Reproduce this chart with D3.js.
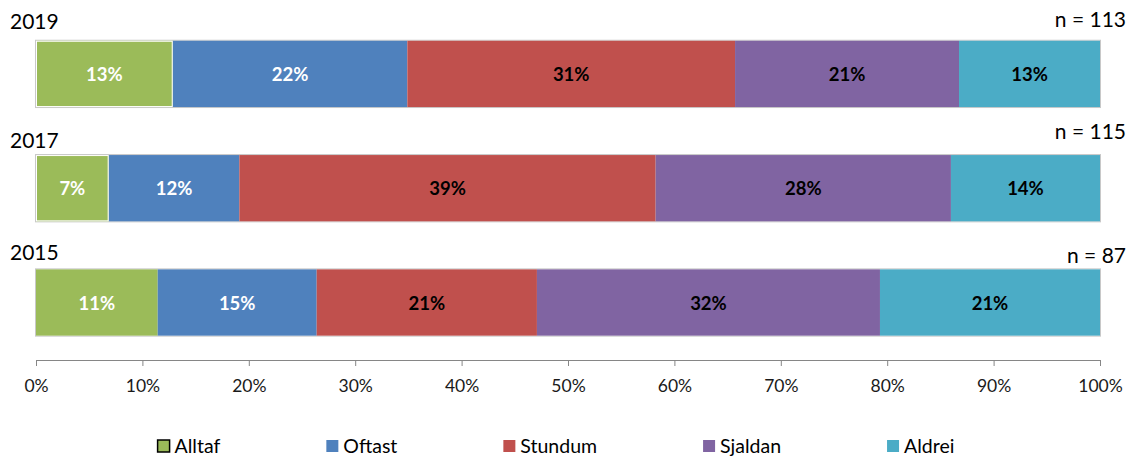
<!DOCTYPE html>
<html>
<head>
<meta charset="utf-8">
<script src="https://cdn.jsdelivr.net/npm/d3@7"></script>
<style>
  html, body { margin: 0; padding: 0; background: #fff; }
  svg { display: block; font-family: Lato, "Open Sans", sans-serif; }
</style>
</head>
<body>
<svg id="chart" width="1132" height="457"></svg>
<script>
// ---- data ----
const years = ["2019", "2017", "2015"];
const nLabels = ["n = 113", "n = 115", "n = 87"];
const seriesNames = ["Alltaf", "Oftast", "Stundum", "Sjaldan", "Aldrei"];
const alltaf  = [12.85, 6.83, 11.44];
const oftast  = [22.05, 12.28, 14.94];
const stundum = [30.80, 39.13, 20.70];
const sjaldan = [21.05, 27.75, 32.24];
const aldrei  = [13.25, 14.01, 20.68];
const xTicks = [0, 10, 20, 30, 40, 50, 60, 70, 80, 90, 100];

// ---- setup ----
const colors = ["#9BBB59", "#4F81BD", "#C0504D", "#8064A2", "#4BACC6"];
const labelColors = ["#ffffff", "#ffffff", "#000000", "#000000", "#000000"];
const seriesVals = [alltaf, oftast, stundum, sjaldan, aldrei];

const rows = years.map((y, i) => {
  const r = { year: y, n: nLabels[i] };
  seriesNames.forEach((s, k) => r[s] = seriesVals[k][i]);
  return r;
});
const stacked = d3.stack().keys(seriesNames)(rows);

const svg = d3.select("#chart");
const x = d3.scaleLinear().domain([0, 100]).range([36, 1100]);
const y = d3.scaleBand().domain(years).range([16.4, 360]).paddingInner(0.42).paddingOuter(0.213);

// bar outlines
svg.append("g").selectAll("rect").data(rows).join("rect")
  .attr("x", x(0) - 0.5).attr("y", d => y(d.year) - 0.5)
  .attr("width", x(100) - x(0) + 1).attr("height", y.bandwidth() + 1)
  .attr("fill", "none").attr("stroke", "#c8c8c8").attr("stroke-width", 1);

// segments
const layers = svg.append("g").selectAll("g").data(stacked).join("g")
  .attr("fill", (d, i) => colors[i]);
layers.selectAll("rect").data(d => d.map(v => ({ v, key: d.key, idx: d.index }))).join("rect")
  .attr("x", d => x(d.v[0]))
  .attr("y", d => y(d.v.data.year))
  .attr("width", d => x(d.v[1]) - x(d.v[0]))
  .attr("height", y.bandwidth());

// white inner border on the Alltaf segments of 2019 and 2017
svg.append("g").selectAll("rect")
  .data(stacked[0].filter(d => d.data.year !== "2015"))
  .join("rect")
  .attr("x", d => x(d[0]) + 0.5).attr("y", d => y(d.data.year) + 0.5)
  .attr("width", d => x(d[1]) - x(d[0]) - 1).attr("height", y.bandwidth() - 1)
  .attr("fill", "none").attr("stroke", "#ffffff").attr("stroke-width", 1);

// value labels
layers.selectAll("text").data(d => d.map(v => ({ v, idx: d.index }))).join("text")
  .attr("x", d => (x(d.v[0]) + x(d.v[1])) / 2)
  .attr("y", d => y(d.v.data.year) + y.bandwidth() / 2 + 7)
  .attr("text-anchor", "middle")
  .attr("font-size", "18.5px").attr("font-weight", "bold")
  .attr("fill", d => labelColors[d.idx])
  .text(d => Math.round(d.v[1] - d.v[0]) + "%");

// year labels and n labels
const yearOff = [-11.7, -7, -9];
const nOff = [-13.5, -16, -6.5];
svg.append("g").selectAll("text").data(rows).join("text")
  .attr("x", 10).attr("y", (d, i) => y(d.year) + yearOff[i])
  .attr("font-size", "21px").attr("fill", "#000")
  .text(d => d.year);
svg.append("g").selectAll("text").data(rows).join("text")
  .attr("x", 1126).attr("y", (d, i) => y(d.year) + nOff[i])
  .attr("text-anchor", "end")
  .attr("font-size", "21px").attr("fill", "#000")
  .text(d => d.n);

// axis
const axis = svg.append("g").attr("transform", "translate(0,360)")
  .call(d3.axisBottom(x).tickValues(xTicks).tickFormat(d => d + "%")
        .tickSize(6).tickSizeOuter(0).tickPadding(14));
axis.select(".domain").attr("stroke", "#868686");
axis.selectAll(".tick line").attr("stroke", "#868686");
axis.selectAll(".tick text").attr("font-size", "17.5px").attr("fill", "#1a1a1a")
  .attr("font-family", "Lato, sans-serif");

// legend
const legend = svg.append("g");
const items = legend.selectAll("g").data(seriesNames).join("g");
items.append("rect")
  .attr("x", 0).attr("y", 440).attr("width", 12).attr("height", 12)
  .attr("fill", (d, i) => colors[i])
  .attr("stroke", (d, i) => i === 0 ? "#000" : "none").attr("stroke-width", 1.5);
items.append("text")
  .attr("x", 17).attr("y", 452.5)
  .attr("font-size", "19.5px").attr("fill", "#000")
  .text(d => d);
let cx = 0;
const offs = [];
items.each(function () {
  offs.push(cx);
  const w = 17 + this.querySelector("text").getComputedTextLength();
  cx += w + 106;
});
const total = cx - 106;
const start = 556 - total / 2;
items.attr("transform", (d, i) => `translate(${start + offs[i]},0)`);
</script>
</body>
</html>
